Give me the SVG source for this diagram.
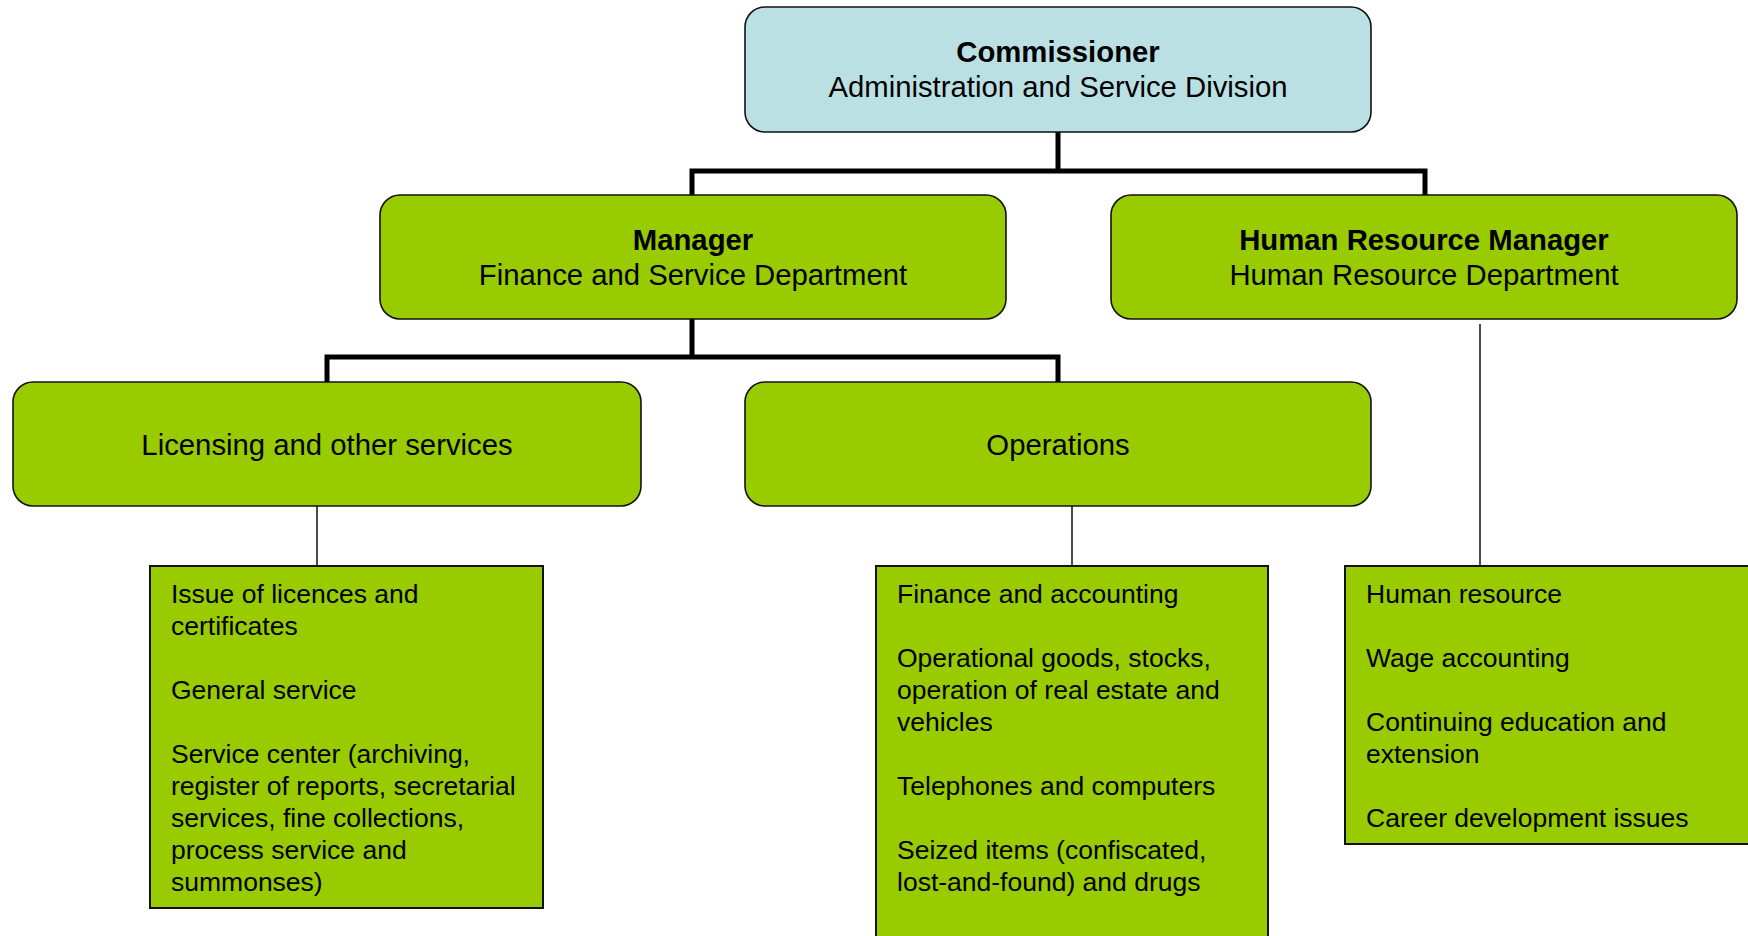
<svg xmlns="http://www.w3.org/2000/svg" width="1748" height="936" viewBox="0 0 1748 936">
<style>
.box{stroke:#111;stroke-width:1.6;}
.blue{fill:#BBE0E3;}
.green{fill:#99CC00;}
.list{fill:#99CC00;stroke:#111;stroke-width:2;}
.t{font-family:"Liberation Sans",Arial,sans-serif;font-size:29.3px;fill:#000;text-anchor:middle;}
.b{font-weight:bold;}
.l{font-family:"Liberation Sans",Arial,sans-serif;font-size:26.5px;fill:#000;}
.thick{stroke:#000;stroke-width:5;fill:none;}
.thin{stroke:#111;stroke-width:1.5;fill:none;}
</style>
<rect width="1748" height="936" fill="#fff"/>
<g id="connectors">
<path class="thick" d="M1058 132 V171 M692 171 H1425 M692 168.5 V195 M1425 168.5 V195"/>
<path class="thick" d="M692 319 V357 M327 357 H1058 M327 354.5 V382 M1058 354.5 V382"/>
<path class="thin" d="M317 506 V566 M1072 506 V566 M1480 324 V566"/>
</g>
<g id="commissioner">
<rect class="box blue" x="745" y="7" width="626" height="125" rx="20"/>
<text class="t b" x="1058" y="62">Commissioner</text>
<text class="t" x="1058" y="97">Administration and Service Division</text>
</g>
<g id="manager">
<rect class="box green" x="380" y="195" width="626" height="124" rx="20"/>
<text class="t b" x="693" y="250">Manager</text>
<text class="t" x="693" y="285">Finance and Service Department</text>
</g>
<g id="hr-manager">
<rect class="box green" x="1111" y="195" width="626" height="124" rx="20"/>
<text class="t b" x="1424" y="250">Human Resource Manager</text>
<text class="t" x="1424" y="285">Human Resource Department</text>
</g>
<g id="licensing">
<rect class="box green" x="13" y="382" width="628" height="124" rx="20"/>
<text class="t" x="327" y="455">Licensing and other services</text>
</g>
<g id="operations">
<rect class="box green" x="745" y="382" width="626" height="124" rx="20"/>
<text class="t" x="1058" y="455">Operations</text>
</g>
<g id="licensing-list">
<rect class="list" x="150" y="566" width="393" height="342"/>
<text class="l" x="171" y="603">Issue of licences and</text>
<text class="l" x="171" y="635">certificates</text>
<text class="l" x="171" y="699">General service</text>
<text class="l" x="171" y="763">Service center (archiving,</text>
<text class="l" x="171" y="795">register of reports, secretarial</text>
<text class="l" x="171" y="827">services, fine collections,</text>
<text class="l" x="171" y="859">process service and</text>
<text class="l" x="171" y="891">summonses)</text>
</g>
<g id="operations-list">
<rect class="list" x="876" y="566" width="392" height="380"/>
<text class="l" x="897" y="603">Finance and accounting</text>
<text class="l" x="897" y="667">Operational goods, stocks,</text>
<text class="l" x="897" y="699">operation of real estate and</text>
<text class="l" x="897" y="731">vehicles</text>
<text class="l" x="897" y="795">Telephones and computers</text>
<text class="l" x="897" y="859">Seized items (confiscated,</text>
<text class="l" x="897" y="891">lost-and-found) and drugs</text>
</g>
<g id="hr-list">
<rect class="list" x="1345" y="566" width="420" height="278"/>
<text class="l" x="1366" y="603">Human resource</text>
<text class="l" x="1366" y="667">Wage accounting</text>
<text class="l" x="1366" y="731">Continuing education and</text>
<text class="l" x="1366" y="763">extension</text>
<text class="l" x="1366" y="827">Career development issues</text>
</g>
</svg>
